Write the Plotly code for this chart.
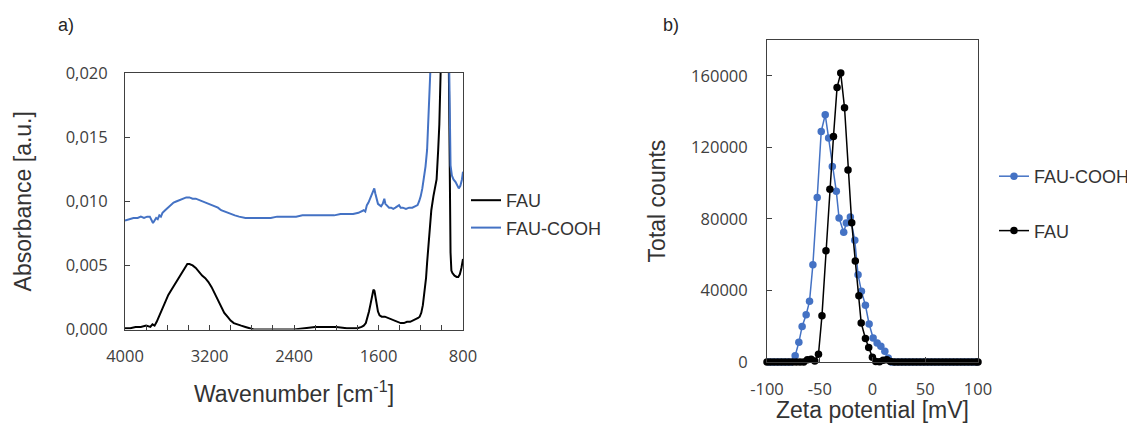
import plotly.graph_objects as go

# ---------------- Panel a: FTIR spectra ----------------
wn_fau = [4000, 3950, 3900, 3850, 3800, 3760, 3740, 3720, 3700, 3680, 3650, 3620, 3590,
          3560, 3530, 3500, 3470, 3440, 3410, 3390, 3360, 3330, 3300, 3270, 3240, 3210,
          3180, 3150, 3120, 3090, 3060, 3030, 3000, 2970, 2940, 2900, 2860, 2820, 2780,
          2700, 2600, 2500, 2400, 2300, 2200, 2100, 2000, 1900, 1800, 1760, 1740, 1720,
          1705, 1690, 1675, 1660, 1648, 1638, 1628, 1618, 1605, 1590, 1570, 1540, 1510,
          1480, 1450, 1420, 1390, 1360, 1330, 1300, 1270, 1245, 1225, 1210, 1195, 1180,
          1165, 1150, 1140, 1120, 1100, 1080, 1065, 1050, 1035, 1024, 1012, 1000, 980,
          960, 945, 935, 925, 918, 910, 900, 880, 860, 845, 830, 815, 800]
abs_fau = [0.0001, 0.0001, 0.0002, 0.0002, 0.0003, 0.0002, 0.0004, 0.0003, 0.0006, 0.0010,
           0.0015, 0.0021, 0.0027, 0.0031, 0.0035, 0.0040, 0.0044, 0.0048, 0.0051, 0.0051,
           0.0050, 0.0048, 0.0045, 0.0042, 0.0040, 0.0037, 0.0033, 0.0028, 0.0023, 0.0018,
           0.0013, 0.0010, 0.0007, 0.0005, 0.0004, 0.0003, 0.0002, 0.0001, 0.0000, 0.0000,
           0.0000, 0.0000, 0.0000, 0.0001, 0.0002, 0.0002, 0.0002, 0.0001, 0.0001, 0.0002,
           0.0003, 0.0005, 0.0009, 0.0014, 0.0020, 0.0027, 0.0031, 0.0030, 0.0025, 0.0019,
           0.0014, 0.0011, 0.0010, 0.0010, 0.0009, 0.0008, 0.0007, 0.0006, 0.0005, 0.0005,
           0.0006, 0.0006, 0.0007, 0.0008, 0.0009, 0.0010, 0.0013, 0.0019, 0.0028, 0.0040,
           0.0052, 0.0076, 0.0093, 0.0104, 0.0110, 0.0117, 0.0140, 0.0160, 0.0200, 0.0300,
           0.0400, 0.0420, 0.0300, 0.0200, 0.0100, 0.0060, 0.0046, 0.0044, 0.0042, 0.0041,
           0.0041, 0.0043, 0.0048, 0.0055]

wn_cooh = [4000, 3960, 3920, 3880, 3850, 3820, 3790, 3765, 3750, 3735, 3720, 3705, 3690,
           3675, 3660, 3645, 3620, 3595, 3570, 3540, 3510, 3480, 3450, 3420, 3390, 3360,
           3330, 3300, 3270, 3240, 3210, 3180, 3150, 3120, 3090, 3060, 3030, 3000, 2960,
           2920, 2860, 2800, 2740, 2680, 2620, 2560, 2500, 2440, 2380, 2320, 2260, 2200,
           2140, 2080, 2020, 1960, 1900, 1840, 1790, 1760, 1740, 1725, 1710, 1695, 1680,
           1665, 1650, 1640, 1630, 1620, 1605, 1590, 1575, 1560, 1545, 1535, 1520, 1500,
           1480, 1460, 1440, 1420, 1405, 1390, 1370, 1340, 1310, 1280, 1250, 1230, 1215,
           1200, 1185, 1170, 1155, 1140, 1125, 1110, 1095, 1080, 1060, 1040, 1000, 970,
           950, 935, 925, 918, 905, 890, 870, 855, 840, 825, 810, 800]
abs_cooh = [0.0085, 0.0086, 0.0087, 0.0087, 0.0088, 0.0087, 0.0088, 0.0088, 0.0086, 0.0083,
            0.0085, 0.0087, 0.0086, 0.0089, 0.0088, 0.0091, 0.0093, 0.0095, 0.0097, 0.0099,
            0.0100, 0.0101, 0.0102, 0.0103, 0.0103, 0.0102, 0.0102, 0.0101, 0.0100, 0.0099,
            0.0098, 0.0097, 0.0096, 0.0095, 0.0093, 0.0092, 0.0091, 0.0090, 0.0089, 0.0088,
            0.0087, 0.0087, 0.0087, 0.0087, 0.0087, 0.0088, 0.0088, 0.0088, 0.0088, 0.0089,
            0.0089, 0.0089, 0.0089, 0.0089, 0.0089, 0.0090, 0.0090, 0.0090, 0.0091, 0.0092,
            0.0093, 0.0092, 0.0097, 0.0099, 0.0102, 0.0106, 0.0109, 0.0110, 0.0106, 0.0102,
            0.0098, 0.0097, 0.0096, 0.0098, 0.0102, 0.0098, 0.0097, 0.0095, 0.0095, 0.0094,
            0.0095, 0.0096, 0.0097, 0.0095, 0.0095, 0.0094, 0.0095, 0.0095, 0.0096, 0.0097,
            0.0100, 0.0104, 0.0110, 0.0118, 0.0127, 0.0140, 0.0160, 0.0180, 0.0200, 0.0240,
            0.0300, 0.0360, 0.0420, 0.0400, 0.0320, 0.0220, 0.0150, 0.0128, 0.0120, 0.0117,
            0.0115, 0.0112, 0.0110, 0.0112, 0.0117, 0.0123]

xa_tickvals = [4000, 3200, 2400, 1600, 800]
xa_ticktext = ["4000", "3200", "2400", "1600", "800"]
xa_minor_step = 200
ya_tickvals = [0.000, 0.005, 0.010, 0.015, 0.020]
ya_ticktext = ["0,000", "0,005", "0,010", "0,015", "0,020"]

# ---------------- Panel b: zeta potential ----------------
zeta_cooh = [-98.1, -94.6, -91.0, -87.5, -84.0, -80.5, -77.0, -73.3, -69.8, -66.7, -62.9,
             -59.7, -56.5, -52.4, -48.6, -44.8, -41.6, -38.1, -34.3, -31.7, -27.3, -24.8,
             -21.0, -16.8, -13.7, -10.5, -6.7, -3.2, 0.6, 4.4, 7.9, 11.7, 14.9, 18.0, 21.6,
             25.1, 28.6, 32.1, 35.7, 39.2, 42.7, 46.2, 49.7, 53.3, 56.8, 60.3, 63.8, 67.4,
             70.9, 74.4, 77.9, 81.4, 85.0, 88.5, 92.0, 95.5, 99.1]
counts_cooh = [0, 0, 0, 0, 0, 0, 0, 3500, 11000, 19900, 26400, 33900, 54400, 92000, 128900,
               138200, 125200, 109300, 95400, 80500, 72500, 77700, 81000, 68000, 48800, 39500,
               31700, 21200, 13400, 10600, 8800, 6000, 2200, 0, 0, 0, 0, 0, 0, 0, 0, 0, 0, 0,
               0, 0, 0, 0, 0, 0, 0, 0, 0, 0, 0, 0, 0]

zeta_fau = [-100.0, -96.7, -93.2, -89.7, -86.2, -82.7, -79.2, -75.7, -72.2, -68.7, -65.2,
            -61.7, -58.2, -54.7, -51.2, -47.9, -44.1, -40.4, -37.0, -33.6, -30.1, -26.5,
            -23.2, -19.7, -16.3, -12.9, -10.7, -6.7, -3.6, -0.1, 3.1, 6.6, 10.1, 13.6, 17.1,
            20.6, 24.1, 27.6, 31.1, 34.6, 38.1, 41.6, 45.1, 48.6, 52.1, 55.6, 59.1, 62.6,
            66.1, 69.6, 73.1, 76.6, 80.1, 83.6, 87.1, 90.6, 94.1, 97.6, 100.0]
counts_fau = [0, 0, 0, 0, 0, 0, 0, 0, 0, 0, 0, 1300, 1500, 600, 4300, 25900, 62200, 96500,
              126000, 153400, 161500, 142100, 107300, 77800, 56500, 37100, 21800, 13100, 8100,
              2600, 300, 200, 1000, 1200, 300, 0, 0, 0, 0, 0, 0, 0, 0, 0, 0, 0, 0, 0, 0, 0,
              0, 0, 0, 0, 0, 0, 0, 0, 0]

xb_tickvals = [-100, -50, 0, 50, 100]
xb_ticktext = ["-100", "-50", "0", "50", "100"]
yb_tickvals = [0, 40000, 80000, 120000, 160000]
yb_ticktext = ["0", "40000", "80000", "120000", "160000"]

BLUE = "#4472C4"
BLACK = "#000000"
AXC = "#404040"

# The page body has an 8 px default margin; the figure is sized so it fits the window.
OFF = 8
W, H = 1135 - OFF, 423 - OFF

fig = go.Figure()
fig.add_trace(go.Scatter(x=wn_fau, y=abs_fau, mode="lines", name="FAU",
                         line=dict(color=BLACK, width=2), xaxis="x", yaxis="y",
                         legend="legend", legendgroup="a1"))
fig.add_trace(go.Scatter(x=wn_cooh, y=abs_cooh, mode="lines", name="FAU-COOH",
                         line=dict(color=BLUE, width=2), xaxis="x", yaxis="y",
                         legend="legend", legendgroup="a2"))
fig.add_trace(go.Scatter(x=zeta_cooh, y=counts_cooh, mode="lines+markers", name="FAU-COOH",
                         line=dict(color=BLUE, width=1.5), marker=dict(color=BLUE, size=7.5),
                         xaxis="x2", yaxis="y2", cliponaxis=False,
                         legend="legend2", legendgroup="b1"))
fig.add_trace(go.Scatter(x=zeta_fau, y=counts_fau, mode="lines+markers", name="FAU",
                         line=dict(color=BLACK, width=1.5), marker=dict(color=BLACK, size=7.5),
                         xaxis="x2", yaxis="y2", cliponaxis=False,
                         legend="legend2", legendgroup="b2"))

tickfont = dict(family="Open Sans", size=16.5, color=AXC)
titlefont = dict(family="Liberation Sans, Arial", size=23, color="#333333")
common = dict(showline=True, mirror=True, linecolor=AXC, linewidth=1, ticks="inside",
              ticklen=5, tickcolor=AXC, showgrid=False, zeroline=False, tickfont=tickfont,
              automargin=False)

def px_x(p):
    return (p - OFF) / W

def px_y(p):
    return 1 - (p - OFF) / H

fig.update_layout(
    width=W, height=H,
    margin=dict(l=0, r=0, t=0, b=0, autoexpand=False),
    paper_bgcolor="white", plot_bgcolor="white",
    xaxis=dict(domain=[px_x(125), px_x(463)], range=[4000, 800], tickmode="array",
               tickvals=xa_tickvals, ticktext=xa_ticktext, anchor="y",
               minor=dict(ticks="inside", dtick=xa_minor_step, tick0=800, ticklen=5,
                          tickcolor=AXC, showgrid=False),
               ticklabelstandoff=12,
               title=dict(text="Wavenumber [cm<sup>-1</sup>]", font=titlefont, standoff=19),
               **common),
    yaxis=dict(domain=[px_y(329.5), px_y(73)], range=[0, 0.020], tickmode="array",
               tickvals=ya_tickvals, ticktext=ya_ticktext, anchor="x",
               ticklabelstandoff=13,
               title=dict(text="Absorbance [a.u.]", font=titlefont, standoff=27),
               **common),
    xaxis2=dict(domain=[px_x(767), px_x(978)], range=[-100, 100], tickmode="array",
                tickvals=xb_tickvals, ticktext=xb_ticktext, anchor="y2", ticklabelstandoff=12,
                title=dict(text="Zeta potential [mV]", font=titlefont, standoff=12),
                **common),
    yaxis2=dict(domain=[px_y(362), px_y(40)], range=[0, 180000], tickmode="array",
                tickvals=yb_tickvals, ticktext=yb_ticktext, anchor="x2", ticklabelstandoff=15,
                title=dict(text="Total counts", font=titlefont, standoff=19),
                **common),
    legend=dict(x=px_x(466), y=px_y(182), xanchor="left", yanchor="top",
                font=dict(family="Liberation Sans, Arial", size=18, color="#333333"),
                bgcolor="rgba(0,0,0,0)", traceorder="grouped", tracegroupgap=1),
    legend2=dict(x=px_x(994), y=px_y(158), xanchor="left", yanchor="top",
                 font=dict(family="Liberation Sans, Arial", size=18, color="#333333"),
                 bgcolor="rgba(0,0,0,0)", traceorder="grouped", tracegroupgap=28),
    annotations=[
        dict(text="a)", x=px_x(66), y=px_y(25), xref="paper", yref="paper",
             xanchor="center", yanchor="middle", showarrow=False,
             font=dict(family="Liberation Sans, Arial", size=18, color="#262626")),
        dict(text="b)", x=px_x(671), y=px_y(25), xref="paper", yref="paper",
             xanchor="center", yanchor="middle", showarrow=False,
             font=dict(family="Liberation Sans, Arial", size=18, color="#262626")),
    ],
)

fig.write_html("out.html")
